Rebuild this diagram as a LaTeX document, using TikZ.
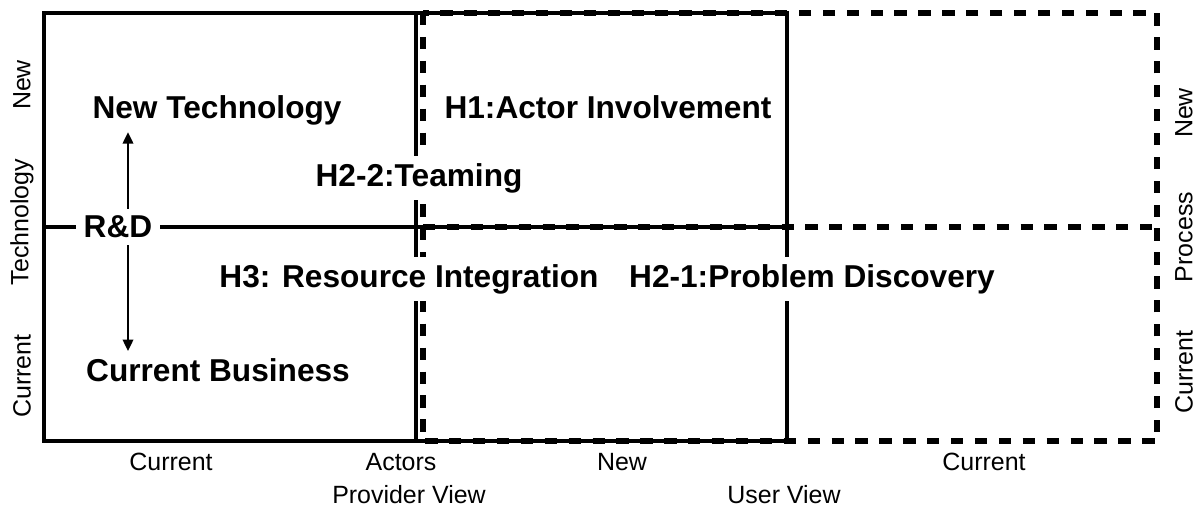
\documentclass[tikz,border=0pt]{standalone}
\usepackage{fontspec}
\setmainfont{Liberation Sans}
\usetikzlibrary{arrows.meta}
\tikzset{
	frame/.style={line width=2.2pt},
	dashframe/.style={line width=3pt, dash pattern=on 7pt off 6.6pt},
	hyp/.style={font=\fontsize{18}{20}\selectfont\bfseries, inner xsep=4.5pt, inner ysep=4pt},
	cut/.style={hyp, fill=white},
	axis/.style={font=\fontsize{14.2}{16}\selectfont, inner sep=0pt},
	rdarrow/.style={line width=1.1pt, -{Triangle[length=6.5pt,width=6pt]}}
}

\begin{document}
\begin{tikzpicture}[x=0.2mm, y=-0.2mm]
		\useasboundingbox (0, 0) rectangle (1197, 508);
		%%%%% START %%%%%
		% provider view (solid)
		\draw[frame] (44, 13) rectangle (787, 441);
		\draw[frame] (44, 227) -- (787, 227);
		\draw[frame, line width=2.8pt] (416, 13) -- (416, 441);
		
		% user view (dashed)
		\draw[dashframe] (423, 13) rectangle (1157, 441);
		\draw[dashframe] (423, 227) -- (1157, 227);
		
		% quadrant texts
		\node[hyp] (nt) at (217, 110) {New Technology};
		\node[hyp] (cb) at (218, 370) {Current Business};
		\node[cut] (rd) at (118, 227) {R\&D};
		\node[hyp] (h1) at (608, 107) {H1:Actor Involvement};
		\node[cut] (h22) at (419, 178) {H2-2:Teaming};
		\node[cut] (h3) at (409, 279) {H3: Resource Integration};
		\node[cut] (h21) at (812, 279) {H2-1:Problem Discovery};
		
		\coordinate (ax) at (128, 227);
		\draw[rdarrow] (rd.north -| ax) -- (nt.south -| ax);
		\draw[rdarrow] (rd.south -| ax) -- (cb.north -| ax);
		
		% axis labels
		\node[axis, rotate=90] (lnew) at (22, 85) {New};
		\node[axis, rotate=90] (ltech) at (22, 222) {Technology};
		\node[axis, rotate=90] (lcur) at (22, 376) {Current};
		\node[axis, rotate=90] (rnew) at (1184, 113) {New};
		\node[axis, rotate=90] (rproc) at (1184, 237) {Process};
		\node[axis, rotate=90] (rcur) at (1184, 372) {Current};
		
		\node[axis] (bcur) at (171, 462) {Current};
		\node[axis] (bact) at (401, 462) {Actors};
		\node[axis] (bnew) at (622, 462) {New};
		\node[axis] (bcur2) at (984, 462) {Current};
		\node[axis] (prov) at (409, 495) {Provider View};
		\node[axis] (user) at (784, 495) {User View};
		%%%%% END %%%%%
\end{tikzpicture}
\end{document}
